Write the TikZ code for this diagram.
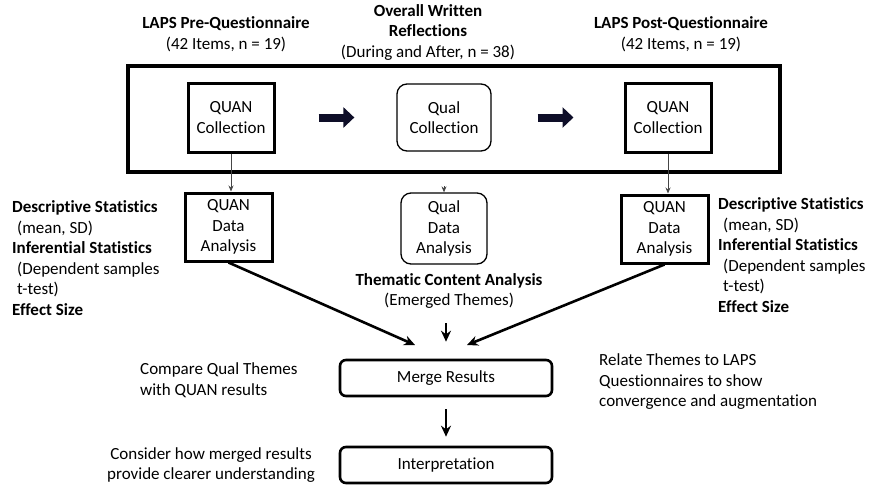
\documentclass[tikz,border=0pt]{standalone}
\usepackage{fontspec}
\setmainfont{Carlito}[Ligatures=NoCommon]
\usepackage{xcolor}
\definecolor{ArrowNavy}{RGB}{14, 14, 40}
\definecolor{LeadGray}{RGB}{70, 70, 70}
\usetikzlibrary{arrows.meta, positioning}

\tikzset{
  quanbox/.style={draw, line width=3pt, minimum width=86pt, minimum height=69pt, align=center, inner sep=0pt},
  qualbox/.style={draw, rounded corners=10pt, line width=1.3pt, minimum width=88pt, minimum height=69pt, align=center, inner sep=0pt},
  resultbox/.style={draw, rounded corners=6pt, line width=2.6pt, minimum width=212pt, minimum height=36pt, inner sep=0pt},
  note/.style={align=left, inner sep=0pt},
  fatarrow/.style={line width=8pt, color=ArrowNavy, -{Triangle[length=11pt, width=20pt]}},
  leadarrow/.style={line width=0.8pt, color=LeadGray, -{Stealth[length=6pt, width=5pt]}},
  mainarrow/.style={line width=2.6pt, -{Stealth[length=11pt, width=10pt]}}
}

\begin{document}
\begin{tikzpicture}[x=1pt, y=-1pt, every node/.style={font=\fontsize{17}{20.5}\selectfont}]
  \useasboundingbox (0,0) rectangle (875,490);

  % collection stage
  \node[draw, line width=3.2pt, minimum width=652pt, minimum height=106pt] (frame) at (454,119) {};
  \node[quanbox] (qcol1) at (231,117.5) {QUAN\\Collection};
  \node[qualbox, minimum width=94pt, minimum height=67pt] (qcol) at (444,117.5) {Qual\\Collection};
  \node[quanbox] (qcol2) at (668,117.5) {QUAN\\Collection};

  \node[align=center] (pre) at (226,34) {\textbf{LAPS Pre-Questionnaire}\\(42 Items, n = 19)};
  \node[align=center] (refl) at (428,32) {\textbf{Overall Written}\\\textbf{Reflections}\\(During and After, n = 38)};
  \node[align=center] (post) at (681,34) {\textbf{LAPS Post-Questionnaire}\\(42 Items, n = 19)};

  \draw[fatarrow, shorten <=43pt, shorten >=42pt] (qcol1.east) -- (qcol.west);
  \draw[fatarrow, shorten <=46pt, shorten >=50pt] (qcol.east) -- (qcol2.west);

  % analysis stage
  \node[quanbox, minimum width=87pt, minimum height=68pt] (qana1) at (228.5,227) {QUAN\\Data\\Analysis};
  \node[qualbox, minimum width=86pt, minimum height=71pt] (qana) at (444,228.5) {Qual\\Data\\Analysis};
  \node[quanbox, minimum width=87pt, minimum height=68pt] (qana2) at (664.5,229) {QUAN\\Data\\Analysis};

  \draw[leadarrow] (qcol1.south) -- (qcol1.south |- qana1.north);
  \draw[leadarrow] (qcol2.south) -- (qcol2.south |- qana2.north);
  \draw[leadarrow] ([yshift=6pt]qana.north) -- (qana.north);

  \node[note, anchor=west] (statsL) at (12,258) {\textbf{Descriptive Statistics}\\\hspace{5pt}(mean, SD)\\\textbf{Inferential Statistics}\\\hspace{5pt}(Dependent samples\\\hspace{5pt}t-test)\\\textbf{Effect Size}};
  \node[note, anchor=west] (statsR) at (718,255) {\textbf{Descriptive Statistics}\\\hspace{5pt}(mean, SD)\\\textbf{Inferential Statistics}\\\hspace{5pt}(Dependent samples\\\hspace{5pt}t-test)\\\textbf{Effect Size}};
  \node[align=center] (themes) at (449,291) {\textbf{Thematic Content Analysis}\\(Emerged Themes)};

  % merging stage
  \node[resultbox] (merge) at (446,378) {Merge Results};
  \node[resultbox] (interp) at (446,465) {Interpretation};
  \coordinate (mergeL) at (415,345);
  \coordinate (mergeR) at (467,345);

  \draw[mainarrow] (qana1.south) -- (mergeL);
  \draw[mainarrow] (qana2.south) -- (mergeR);
  \draw[mainarrow, line width=2pt, shorten <=11pt, shorten >=17pt] (themes.south -| merge.north) -- (merge.north);
  \draw[mainarrow, line width=2pt, shorten <=12pt, shorten >=9pt] (merge.south) -- (interp.north);

  \node[note, anchor=west] (compare) at (140,380) {Compare Qual Themes\\with QUAN results};
  \node[note, anchor=west] (relate) at (599,382) {Relate Themes to LAPS\\Questionnaires to show\\convergence and augmentation};
  \node[align=center, inner sep=0pt] (consider) at (211,465) {Consider how merged results\\provide clearer understanding};
\end{tikzpicture}
\end{document}
